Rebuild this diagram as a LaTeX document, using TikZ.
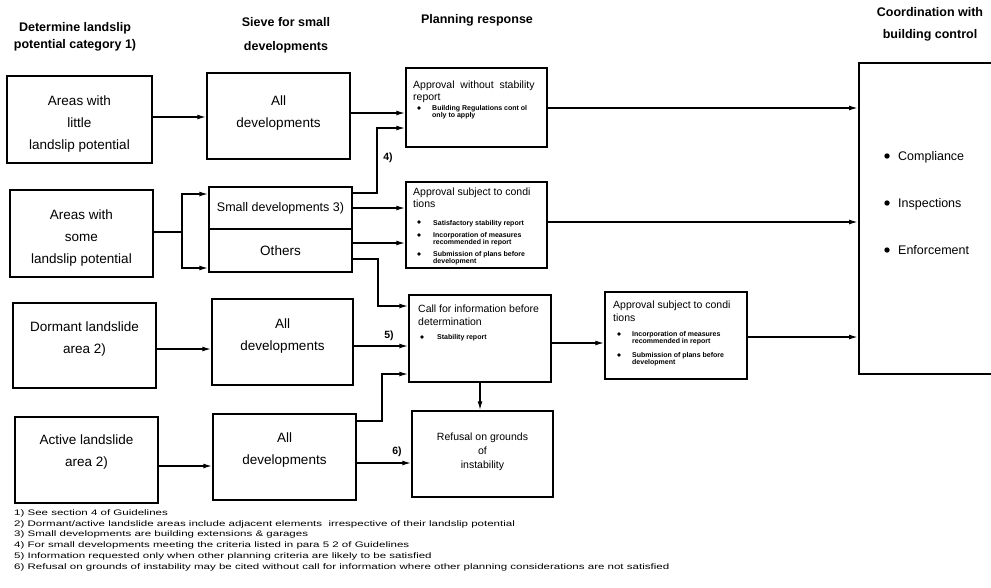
\documentclass[tikz,border=0pt]{standalone}
\usepackage{fontspec}
\setmainfont{Liberation Sans}
\newfontfamily\notefont[FakeStretch=1.44]{Liberation Sans}
\usetikzlibrary{arrows.meta}

\begin{document}
\begin{tikzpicture}[x=1pt,y=-1pt,
  bx/.style={draw, line width=1.5pt, inner sep=0pt},
  maintext/.style={font=\fontsize{13.5}{22}\selectfont, align=center, inner sep=0pt},
  head/.style={font=\bfseries\fontsize{12.5}{17}\selectfont, align=center, inner sep=0pt},
  ptitle/.style={font=\fontsize{10.5}{12}\selectfont, align=left, inner sep=0pt, anchor=base west},
  btext/.style={font=\bfseries\fontsize{7}{7}\selectfont, align=left, inner sep=0pt, anchor=base west},
  ctext/.style={font=\fontsize{12.5}{15}\selectfont, inner sep=0pt, anchor=base west},
  fnote/.style={font=\notefont\fontsize{8}{10.7}\selectfont, align=left, inner sep=0pt, anchor=base west},
  lbl/.style={font=\bfseries\fontsize{10.5}{12}\selectfont, inner sep=0pt},
  ln/.style={line width=1.5pt},
  arr/.style={line width=1.5pt, -{Latex[length=9pt,width=5pt]}},
  bdot/.style={fill=black},
]
\useasboundingbox (0,0) rectangle (991,587);

% column headings
\node[head] (h1) at (75,37) {Determine landslip\\potential category 1)};
\node[head, font=\bfseries\fontsize{12.5}{24}\selectfont] (h2) at (286,35) {Sieve for small\\developments};
\node[head] (h3) at (477,20) {Planning response};
\node[head, font=\bfseries\fontsize{12.5}{22}\selectfont] (h4) at (930,24) {Coordination with\\building control};

% landslip potential categories
\node[bx, minimum width=145pt, minimum height=87pt] (b1) at (79.5,119.5) {};
\node[maintext] (b1t) at (79.5,124) {Areas with\\little\\landslip potential};
\node[bx, minimum width=143pt, minimum height=87pt] (b2) at (81.5,233.5) {};
\node[maintext] (b2t) at (81.5,238) {Areas with\\some\\landslip potential};
\node[bx, minimum width=143pt, minimum height=85pt] (b3) at (84.5,345.5) {};
\node[maintext] (b3t) at (84.5,339) {Dormant landslide\\area 2)};
\node[bx, minimum width=143pt, minimum height=86pt] (b4) at (86.5,460) {};
\node[maintext] (b4t) at (86.5,452) {Active landslide\\area 2)};

% sieve for small developments
\node[bx, minimum width=143pt, minimum height=86pt] (s1) at (278.5,116) {};
\node[maintext] (s1t) at (278.5,113) {All\\developments};
\node[bx, maintext, font=\fontsize{12.5}{15}\selectfont, minimum width=143pt, minimum height=42pt] (s2a) at (280.5,208) {Small developments 3)};
\node[bx, maintext, minimum width=143pt, minimum height=43pt] (s2b) at (280.5,250.5) {Others};
\node[bx, minimum width=141pt, minimum height=86pt] (s3) at (282.5,342) {};
\node[maintext] (s3t) at (282.5,336) {All\\developments};
\node[bx, minimum width=143pt, minimum height=86pt] (s4) at (284.5,457) {};
\node[maintext] (s4t) at (284.5,450) {All\\developments};

% planning response
\node[bx, minimum width=141pt, minimum height=79pt] (p1) at (476.5,107.5) {};
\node[ptitle] (p1t) at (413,100) {Approval\ \ without\ \ stability\\report};
\fill[bdot] (419,108) circle (1.9);
\node[btext] (p1a) at (432,117) {Building Regulations cont ol\\only to apply};

\node[bx, minimum width=141pt, minimum height=86pt] (p2) at (476.5,225) {};
\node[ptitle] (p2t) at (413,207) {Approval subject to condi\\tions};
\fill[bdot] (419,222) circle (1.9);
\node[btext] (p2a) at (433,225) {Satisfactory stability report};
\fill[bdot] (419,235) circle (1.9);
\node[btext] (p2b) at (433,244) {Incorporation of measures\\recommended in report};
\fill[bdot] (419,254) circle (1.9);
\node[btext] (p2c) at (433,263) {Submission of plans before\\development};

\node[bx, minimum width=142pt, minimum height=87pt] (p3) at (480,338.5) {};
\node[ptitle, font=\fontsize{10.5}{13}\selectfont] (p3t) at (418,325) {Call for information before\\determination};
\fill[bdot] (422,337) circle (1.9);
\node[btext] (p3a) at (437,339.5) {Stability report};

\node[bx, minimum width=141pt, minimum height=86pt] (r) at (482.5,454) {};
\node[maintext, font=\fontsize{10.5}{14}\selectfont] (rt) at (482.5,452) {Refusal on grounds\\of\\instability};

\node[bx, minimum width=142pt, minimum height=87pt] (q) at (676,335.5) {};
\node[ptitle, font=\fontsize{10.5}{13}\selectfont] (qt) at (613,321) {Approval subject to condi\\tions};
\fill[bdot] (619,334) circle (1.9);
\node[btext] (qa) at (632,343) {Incorporation of measures\\recommended in report};
\fill[bdot] (619,355) circle (1.9);
\node[btext] (qb) at (632,364) {Submission of plans before\\development};

% coordination with building control (box runs off the right edge)
\begin{scope}
\clip (0,0) rectangle (991,587);
\node[bx, anchor=north west, minimum width=160pt, minimum height=311pt] (bc) at (858,62) {};
\end{scope}
\fill[bdot] (887,156) circle (2.7);
\node[ctext] (bc1) at (898,160.5) {Compliance};
\fill[bdot] (887,203) circle (2.7);
\node[ctext] (bc2) at (898,207.5) {Inspections};
\fill[bdot] (887,250) circle (2.7);
\node[ctext] (bc3) at (898,254.5) {Enforcement};

% bend points of the connectors
\coordinate (j4) at (377,128);
\coordinate (j7) at (378,306);
\coordinate (j9) at (182,232);
\coordinate (j12) at (382,374);

% connectors
\draw[arr] (b1.east |- 0,117) -- (s1.west |- 0,117);
\draw[arr] (s1.east |- 0,113) -- (p1.west |- 0,113);
\draw[arr] (p1.east |- 0,108) -- (bc.west |- 0,108);
\draw[arr] (s2a.east |- 0,193) -| (j4) -- (p1.west |- j4);
\node[lbl] (n4) at (388,158) {4)};
\draw[arr] (s2a.east |- 0,208) -- (p2.west |- 0,208);
\draw[arr] (s2b.east |- 0,243) -- (p2.west |- 0,243);
\draw[arr] (s2b.east |- 0,259) -| (j7) -- (p3.west |- j7);
\draw[arr] (p2.east |- 0,222) -- (bc.west |- 0,222);
\draw[ln] (b2.east |- j9) -- (j9);
\draw[arr] (j9) |- (s2a.west |- 0,194);
\draw[arr] (j9) |- (s2b.west |- 0,268);
\draw[arr] (b3.east |- 0,349) -- (s3.west |- 0,349);
\draw[arr] (s3.east |- 0,346) -- (p3.west |- 0,346);
\node[lbl] (n5) at (389,336) {5)};
\draw[arr] (s4.east |- 0,421) -| (j12) -- (p3.west |- j12);
\draw[arr] (b4.east |- 0,466) -- (s4.west |- 0,466);
\draw[arr] (s4.east |- 0,463) -- (r.west |- 0,463);
\node[lbl] (n6) at (397,452) {6)};
\draw[arr] (p3.east |- 0,343) -- (q.west |- 0,343);
\draw[arr] (q.east |- 0,337) -- (bc.west |- 0,337);
\draw[arr] (p3.south -| 480,0) -- (r.north -| 480,0);

% footnotes
\node[fnote] (fn) at (14,569) {1) See section 4 of Guidelines\\
2) Dormant/active landslide areas include adjacent elements\ \ irrespective of their landslip potential\\
3) Small developments are building extensions \& garages\\
4) For small developments meeting the criteria listed in para 5 2 of Guidelines\\
5) Information requested only when other planning criteria are likely to be satisfied\\
6) Refusal on grounds of instability may be cited without call for information where other planning considerations are not satisfied};
\end{tikzpicture}
\end{document}
